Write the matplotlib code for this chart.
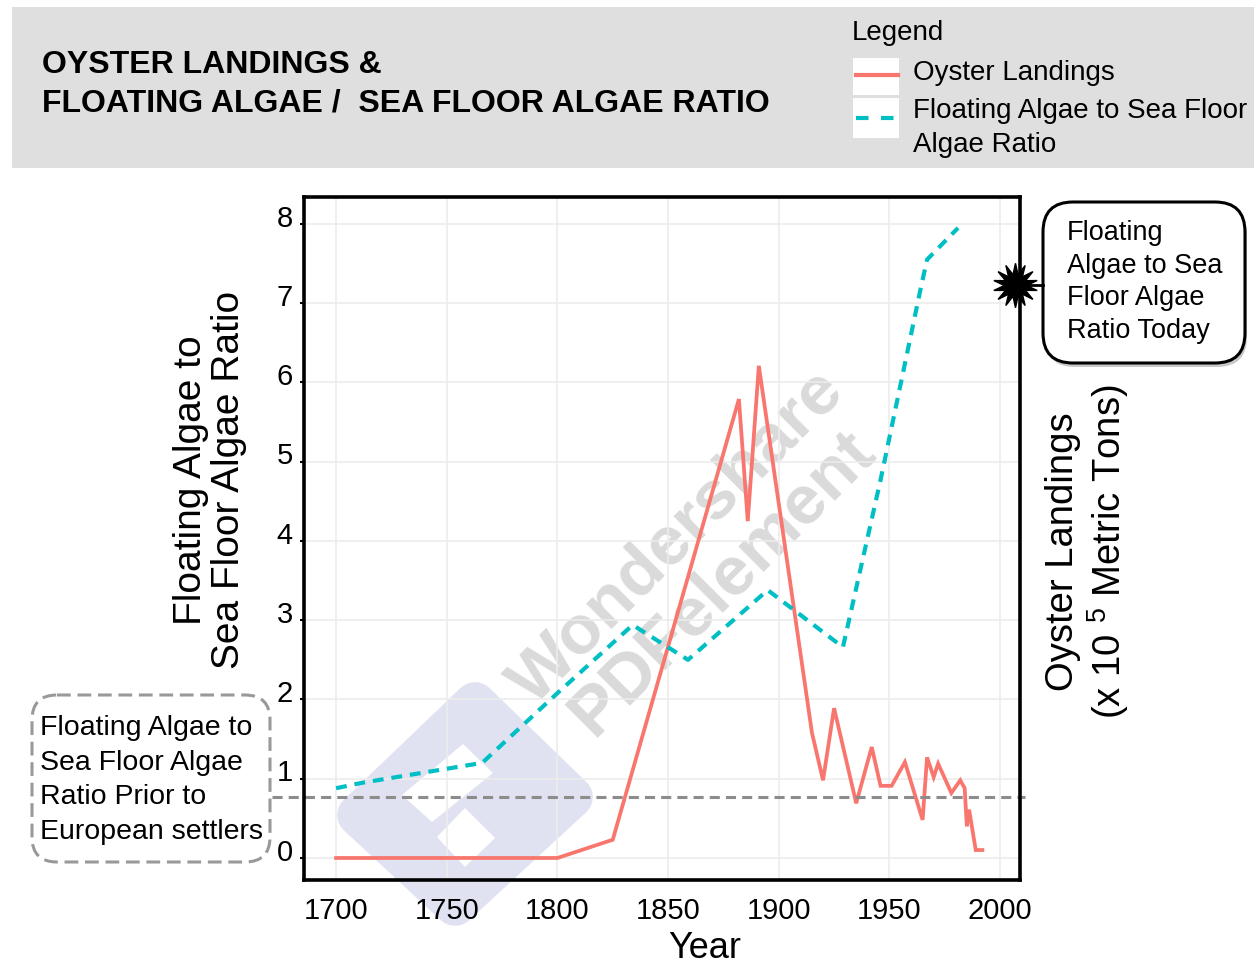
import matplotlib
matplotlib.use("Agg")
import matplotlib.pyplot as plt
import matplotlib.transforms as mtransforms
from matplotlib.patches import FancyBboxPatch, Rectangle, Polygon

# Data (ratio axis units)
oyster_years = [1700, 1800, 1825, 1882, 1886, 1891, 1915, 1920, 1925, 1935,
                1942, 1946, 1951, 1957, 1965, 1967, 1970, 1972, 1978, 1982,
                1984, 1985, 1986, 1989, 1992]
oyster_vals = [0.0, 0.0, 0.23, 5.79, 4.25, 6.21, 1.58, 0.98, 1.89, 0.69,
               1.40, 0.91, 0.91, 1.21, 0.48, 1.27, 1.02, 1.19, 0.82, 0.98,
               0.88, 0.40, 0.61, 0.10, 0.10]

ratio_years = [1700, 1712, 1738, 1766, 1800, 1834, 1859, 1895, 1929, 1946,
               1964, 1967, 1981]
ratio_vals = [0.88, 0.95, 1.07, 1.20, 2.08, 2.94, 2.50, 3.38, 2.66, 4.77,
              7.17, 7.55, 7.95]

prior_ratio = 0.77   # before European settlers
today_ratio = 7.23   # ratio today (star)

x_ticks = [1700, 1750, 1800, 1850, 1900, 1950, 2000]
y_ticks = [0, 1, 2, 3, 4, 5, 6, 7, 8]

RED = "#f8766d"
CYAN = "#00bfc4"
GREY = "#8c8c8c"

plt.rcParams["font.family"] = ["Liberation Sans", "DejaVu Sans"]
plt.rcParams["mathtext.fontset"] = "custom"
plt.rcParams["mathtext.rm"] = "Liberation Sans"

W, H = 1254, 969
fig = plt.figure(figsize=(W / 100, H / 100), dpi=100)

# background layer in pixel coordinates for header, callouts, watermark
bg = fig.add_axes([0, 0, 1, 1], zorder=0)
bg.set_xlim(0, W)
bg.set_ylim(H, 0)
bg.axis("off")

# header
bg.add_patch(Rectangle((12, 7), W - 12, 161, color="#dfdfdf", lw=0))
bg.text(42, 65, "OYSTER LANDINGS &", fontsize=23, fontweight="bold", va="center")
bg.text(42, 103, "FLOATING ALGAE /  SEA FLOOR ALGAE RATIO", fontsize=23,
        fontweight="bold", va="center")

# legend
bg.text(852, 33, "Legend", fontsize=20, va="center")
bg.add_patch(Rectangle((853, 58), 46, 37, color="white", lw=0))
bg.add_patch(Rectangle((853, 98), 46, 40, color="white", lw=0))
bg.plot([856, 898], [75, 75], color=RED, lw=3)
bg.plot([856, 894], [118, 118], color=CYAN, lw=3, dashes=(3, 3))
bg.text(913, 73, "Oyster Landings", fontsize=20, va="center")
bg.text(913, 111, "Floating Algae to Sea Floor", fontsize=20, va="center")
bg.text(913, 145, "Algae Ratio", fontsize=20, va="center")

# watermark
wm = [(475, 703), (572, 797), (455, 905), (358, 815)]
bg.add_patch(Polygon(wm, closed=True, fc="#e0e2f1", ec="#e0e2f1", lw=30,
                     joinstyle="round"))
bg.add_patch(Polygon([(463, 744), (493, 773), (432, 822), (402, 795)],
                     closed=True, fc="white", lw=0))
bg.add_patch(Polygon([(437, 837), (465, 808), (495, 838), (465, 867)],
                     closed=True, fc="white", lw=0))
bg.text(700, 560, "Wondershare\nPDFelement", rotation=45, fontsize=50,
        fontweight="bold", color="#dadada", ha="center", va="center",
        linespacing=1.0)

# right callout
bg.add_patch(FancyBboxPatch((1045, 206), 202, 161,
                            boxstyle="round,pad=0,rounding_size=30",
                            fc="#c8c8c8", ec="none"))
bg.add_patch(FancyBboxPatch((1043, 202), 202, 161,
                            boxstyle="round,pad=0,rounding_size=30",
                            fc="white", ec="black", lw=2.2))
bg.plot([1015, 1043], [285, 285], color="black", lw=2)
for i, line in enumerate(["Floating", "Algae to Sea", "Floor Algae", "Ratio Today"]):
    bg.text(1067, 233 + 32.7 * i, line, fontsize=19.5, va="center")

# left callout
bg.add_patch(FancyBboxPatch((32, 695), 238, 167,
                            boxstyle="round,pad=0,rounding_size=25",
                            fc="white", ec="#999999", lw=2.2,
                            linestyle=(0, (4.5, 2.2))))
for i, line in enumerate(["Floating Algae to", "Sea Floor Algae",
                          "Ratio Prior to", "European settlers"]):
    bg.text(40, 728 + 34.7 * i, line, fontsize=20.5, va="center")

# axis titles
bg.text(210, 480, "Floating Algae to\nSea Floor Algae Ratio", rotation=90,
        fontsize=28, ha="center", va="center", linespacing=1.1)
bg.text(1088, 552, "Oyster Landings\n(x 10 $^{5}$ Metric Tons)", rotation=90,
        fontsize=27.5, ha="center", va="center", linespacing=1.1)
bg.text(705, 948, "Year", fontsize=26, ha="center", va="center")

# main plot
ax = fig.add_axes([304 / W, 1 - 880 / H, 716 / W, 683 / H], zorder=1)
ax.set_facecolor("none")
ax.plot(oyster_years, oyster_vals, color=RED, lw=2.7, solid_joinstyle="miter")
ax.plot(ratio_years, ratio_vals, color=CYAN, lw=3, dashes=(2.6, 1.9))
ax.axhline(prior_ratio, xmin=(272 - 304) / 716, xmax=(1025 - 304) / 716,
           clip_on=False, color=GREY, lw=2.2, dashes=(3.3, 2))
ax.plot([0.993], [today_ratio], marker=(14, 1, 0), ms=32, color="black",
        transform=ax.get_yaxis_transform(), clip_on=False, zorder=5)

ax.set_xlim(1685.5, 2009)
ax.set_ylim(-0.278, 8.34)
ax.set_xticks(x_ticks)
ax.set_yticks(y_ticks)
ax.grid(color="#ececec", lw=1.2)
ax.set_axisbelow(True)
ax.tick_params(axis="x", length=0, pad=12, labelsize=21)
ax.tick_params(axis="y", length=3, width=1.5, pad=5, labelsize=21)
offset = mtransforms.ScaledTranslation(0, 6 / 72, fig.dpi_scale_trans)
for lab in ax.get_yticklabels():
    lab.set_transform(lab.get_transform() + offset)
for s in ax.spines.values():
    s.set_linewidth(2.6)
    s.set_color("black")

fig.savefig("out.png", dpi=100)
